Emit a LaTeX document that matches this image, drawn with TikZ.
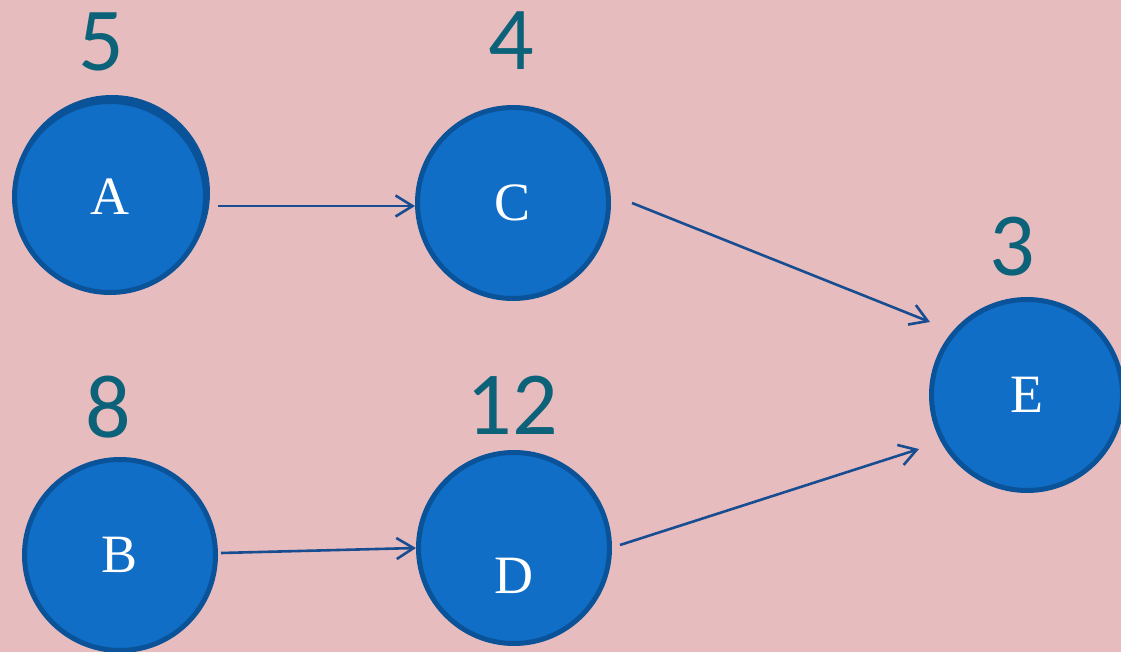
\documentclass[tikz,border=0pt]{standalone}
\usepackage{fontspec}
\setmainfont{Liberation Serif}
\newfontfamily\numfont{Carlito}
\usetikzlibrary{arrows.meta}
\definecolor{paper}{RGB}{231,188,191}
\definecolor{nodefill}{RGB}{16,110,198}
\definecolor{nodeedge}{RGB}{11,83,152}
\definecolor{linkcol}{RGB}{24,78,145}
\definecolor{numcol}{RGB}{12,98,120}
\begin{document}
\begin{tikzpicture}[x=1pt,y=-1pt,
  task/.style={circle,draw=nodeedge,line width=5pt,fill=nodefill,
    minimum size=191pt,inner sep=0pt,text=white,
    font=\fontsize{54}{54}\selectfont},
  weight/.style={text=numcol,inner sep=0pt,
    font=\numfont\fontsize{90}{90}\selectfont},
  conn/.style={draw=linkcol,line width=2.6pt,
    -{Straight Barb[length=17pt,width=21pt,line width=2.6pt]}}]
  % background
  \fill[paper] (0,0) rectangle (1121,652);
  \useasboundingbox (0,0) rectangle (1121,652);
  % slight double rim behind A
  \fill[nodeedge] (112,193) circle (98);
  % task nodes
  \node[task] (A) at (110,197) {A};
  \node[task] (C) at (513,203) {C};
  \node[task] (E) at (1027,395) {E};
  \node[task] (B) at (120,555) {B};
  \node[task] (D) at (514,548) {\raisebox{-45pt}[0pt][0pt]{D}};
  % durations
  \node[weight] (nA) at (101,42) {5};
  \node[weight] (nC) at (511,41) {4};
  \node[weight] (nE) at (1012,247) {3};
  \node[weight] (nB) at (108,407) {8};
  \node[weight] (nD) at (512,405) {12};
  % links
  \draw[conn] ([shift={(10,9)}]A.east) -- ([shift={(0,3)}]C.west);
  \draw[conn] ([shift={(21,0)}]C.east) -- ([shift={(-97,-73)}]E.center);
  \draw[conn] ([shift={(3,-2)}]B.east) -- (D.west);
  \draw[conn] ([shift={(8,-3)}]D.east) -- ([shift={(-108,54)}]E.center);
\end{tikzpicture}
\end{document}
